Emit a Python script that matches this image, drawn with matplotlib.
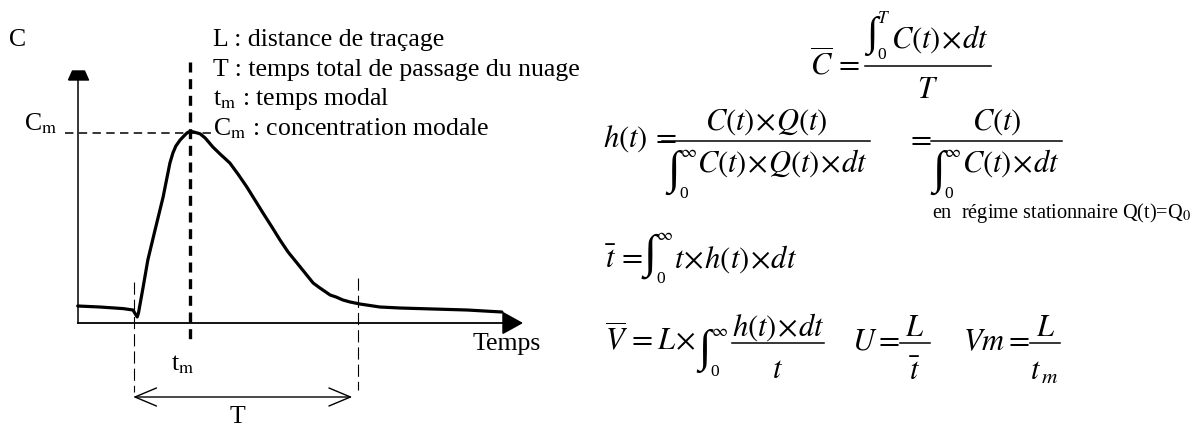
import numpy as np
import matplotlib
matplotlib.use("Agg")
from matplotlib import pyplot as plt
from matplotlib.lines import Line2D

plt.rcParams['font.family'] = ['Liberation Serif', 'DejaVu Serif']
plt.rcParams['mathtext.fontset'] = 'stix'

# restitution curve (t: time, C: concentration)
t_vals = [0.0, 5.2, 10.7, 13.0, 14.0, 14.3, 15.4, 16.5, 18.2, 20.1, 20.8, 21.7,
          22.4, 23.1, 24.1, 25.0, 25.7, 26.4, 27.1, 27.8, 28.8, 30.0, 31.8, 33.5,
          35.8, 37.7, 39.8, 41.7, 43.6, 45.7, 47.6, 49.5, 51.6, 53.5, 55.4, 57.0,
          59.4, 60.8, 62.4, 64.1, 66.4, 71.1, 75.8, 83.6, 91.6, 99.8]
C_vals = [4.25, 4.0, 3.6, 3.25, 1.5, 2.5, 9.0, 15.75, 23.25, 31.5, 35.25, 40.0,
          42.5, 44.25, 45.75, 46.75, 47.5, 47.9, 47.8, 47.6, 47.3, 46.25, 44.0, 42.25,
          40.0, 37.25, 34.0, 30.75, 27.5, 24.0, 20.75, 17.75, 15.0, 12.5, 10.0, 8.75,
          7.0, 6.5, 5.75, 5.25, 4.75, 4.0, 3.75, 3.5, 3.25, 2.75]
T_start, T_end = 13.25, 66.0

legend_lines = ["L : distance de traçage",
                "T : temps total de passage du nuage",
                r"t$_\mathrm{m}$ : temps modal",
                r"C$_\mathrm{m}$ : concentration modale"]

W, H = 1196, 428
fig = plt.figure(figsize=(W / 100, H / 100), dpi=100)
renderer = fig.canvas.get_renderer()

# one axes over the whole figure, origin of the sketch at pixel (77.7, 323)
ax = fig.add_axes([0, 0, 1, 1])
sx, sy = 4.25, 4.0
ax.set_xlim(-77.7 / sx, (W - 77.7) / sx)
ax.set_ylim((323 - H) / sy, 323 / sy)
ax.axis('off')

t = np.array(t_vals)
C = np.array(C_vals)
i_m = int(np.argmax(C))
t_m, C_m = t[i_m], C[i_m]

# axes with arrows (flat topped head on the C axis)
C_top = 62.0
ax.plot([0, 0], [0, C_top], color='black', lw=1.1)
ax.plot([0], [C_top], linestyle='none', color='black', ms=14.4,
        marker=[(-1, -0.45), (1, -0.45), (0.6, 0.45), (-0.6, 0.45), (-1, -0.45)])
ax.annotate('', xy=(104.8, 0), xytext=(0, 0),
            arrowprops=dict(arrowstyle='-|>,head_length=1.3,head_width=0.72',
                            lw=1.3, color='black', shrinkA=0, shrinkB=0,
                            mutation_scale=10))

# curve
ax.plot(t, C, color='black', lw=2.3, solid_capstyle='round', solid_joinstyle='round')

# dashed guides
ax.plot([-3.0, 31.6], [C_m - 0.3, C_m - 0.3], color='black', lw=1.1,
        dashes=(5.5, 3.5))
ax.plot([t_m, t_m], [65.2, -4.2], color='black', lw=2.4, dashes=(3, 2))
ax.plot([T_start, T_start], [10.2, -17.2], color='black', lw=0.8, dashes=(11, 4.5))
ax.plot([T_end, T_end], [11.2, -16.8], color='black', lw=0.8, dashes=(11, 4.5))
ax.annotate('', xy=(T_end - 1.4, -18.5), xytext=(T_start - 0.2, -18.5),
            arrowprops=dict(arrowstyle='<->,head_length=1.55,head_width=0.65',
                            lw=1.0, color='black', shrinkA=0, shrinkB=0,
                            mutation_scale=10))

fs = 18.5
ax.text(-16.2, 69.25, 'C', fontsize=fs, va='baseline')
ax.text(-12.6, C_m + 0.2, r'C$_\mathrm{m}$', fontsize=fs, va='baseline')
ax.text(t_m - 1.8, -11.75, r't$_\mathrm{m}$', fontsize=fs, va='baseline', ha='center')
ax.text((T_start + T_end) / 2 - 2, -25, 'T', fontsize=fs, va='baseline', ha='center')
ax.text(93.0, -6.75, 'Temps', fontsize=fs, va='baseline')


# ---- formulas, placed in pixel coordinates of the figure ----
def put(x, y, s, size=22, **kw):
    txt = fig.text(x / W, 1 - y / H, s, fontsize=size, va='baseline', **kw)
    return txt.get_window_extent(renderer)


def hbar(x0, x1, y):
    fig.add_artist(Line2D([x0 / W, x1 / W], [1 - y / H] * 2, color='black', lw=1.1))


def integral(x, top, bottom, hi, lo):
    # tall integral sign, limits on its right; returns where the integrand starts
    h = bottom - top
    s = fig.text(x / W, 1 - (top + bottom) / 2 / H, '\u222b', fontsize=0.62 * h,
                 va='center', ha='left', family='Liberation Serif')
    bb = s.get_window_extent(renderer)
    b1 = put(bb.x1, top + 11, hi, size=12.5)
    b2 = put(bb.x1, bottom - 1, lo, size=12.5)
    return max(b1.x1, b2.x1) + 1


for k, line in enumerate(legend_lines):
    put(213, 46 + 29.7 * k, line, size=fs)

X = r'\hspace{0.06}{\times}\hspace{0.06}'

# C bar
put(810, 75, r'$\overline{C}\,=$')
x0 = integral(866, 12, 60, r'$T$', '0')
b = put(x0, 48, r'$C(t)' + X + r'dt$')
hbar(865, b.x1 + 2, 66)
put((865 + b.x1 + 2) / 2, 98, r'$T$', ha='center')

# h(t)
put(603, 147, r'$h(t)\,=$')
x0 = integral(667, 146, 199, r'$\infty$', '0')
b = put(x0, 172, r'$C(t)' + X + r'Q(t)' + X + r'dt$')
hbar(662, b.x1 + 2, 141)
put((662 + b.x1 + 2) / 2, 130, r'$C(t)' + X + r'Q(t)$', ha='center')

put(906, 147, r'$=$')
x0 = integral(932, 146, 199, r'$\infty$', '0')
b = put(x0, 172, r'$C(t)' + X + r'dt$')
hbar(931, b.x1 + 2, 141)
put((931 + b.x1 + 2) / 2, 130, r'$C(t)$', ha='center')
put(932, 218, r'en  régime stationnaire Q(t)=Q$_\mathrm{0}$', size=14.6)

# mean time
b = put(605, 268, r'$\bar{t}\,=$')
x0 = integral(max(641, b.x1), 229, 284, r'$\infty$', '0')
put(x0, 268, r'$t' + X + r'h(t)' + X + r'dt$')

# velocities
b = put(605, 350, r'$\overline{V}\,=L' + X + r'$')
x0 = integral(b.x1 + 3, 325, 377, r'$\infty$', '0')
b = put(x0 + 3, 336, r'$h(t)' + X + r'dt$')
hbar(b.x0, b.x1, 343)
put((b.x0 + b.x1) / 2, 378, r'$t$', ha='center')

b = put(852, 350, r'$U=$')
hbar(b.x1, b.x1 + 30, 343)
put(b.x1 + 15, 336, r'$L$', ha='center')
put(b.x1 + 15, 380, r'$\bar{t}$', ha='center')

b = put(963, 350, r'$Vm=$')
hbar(b.x1, b.x1 + 30, 343)
put(b.x1 + 16, 336, r'$L$', ha='center')
put(b.x1 + 14, 380, r'$t_{\,m}$', ha='center')

plt.savefig("out.png", dpi=100)
